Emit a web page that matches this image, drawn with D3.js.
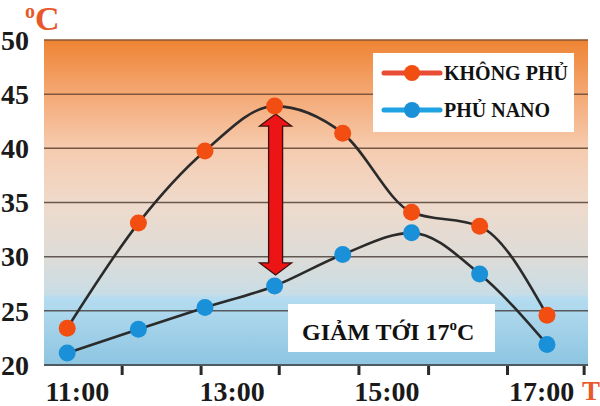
<!DOCTYPE html>
<html><head><meta charset="utf-8">
<script src="https://cdn.jsdelivr.net/npm/d3@7"></script>
<style>html,body{margin:0;padding:0;background:#fff;}svg{display:block;}</style>
</head><body>
<svg id="c" width="600" height="406"></svg>
<script>
// ---- data ----
const times = [10.87, 11.79, 12.65, 13.55, 14.43, 15.32, 16.2, 17.07];
const khongPhu = [23.4, 33.1, 39.75, 43.9, 41.4, 34.1, 32.8, 24.6];
const phuNano = [21.1, 23.3, 25.3, 27.3, 30.2, 32.2, 28.4, 21.9];
const yTicks = [20, 25, 30, 35, 40, 45, 50];
const xLabels = [11, 13, 15, 17];
const xTickTimes = [11.58, 12.6, 13.61, 14.64, 15.54, 16.56, 17.55];
const seriesNames = ["KHÔNG PHỦ", "PHỦ NANO"];

const svg = d3.select("#c");
const L = 44, R = 588, T = 40, B = 365;
const x = d3.scaleLinear().domain([10.57, 17.6]).range([L, R]);
const y = d3.scaleLinear().domain([20, 50]).range([B, T]);
const serif = "'Liberation Serif','Times New Roman',serif";

// gradient background
const defs = svg.append("defs");
const g = defs.append("linearGradient").attr("id", "bg").attr("x1", 0).attr("y1", 0).attr("x2", 0).attr("y2", 1);
[[0, "#ee8433"], [0.16, "#f4a772"], [0.33, "#f6cbae"], [0.5, "#efdacb"], [0.67, "#dddcd8"], [0.78, "#c9dde5"], [0.795, "#b5dcf0"], [1, "#8dc5e1"]]
  .forEach(([o, c]) => g.append("stop").attr("offset", o).attr("stop-color", c));
svg.append("rect").attr("x", L).attr("y", T).attr("width", R - L).attr("height", B - T).attr("fill", "url(#bg)");

// gridlines
const gridCol = d3.scaleLinear().domain([20, 50]).range(["#4d5a62", "#8a5535"]);
svg.append("g").selectAll("line").data(yTicks).join("line")
  .attr("x1", L).attr("x2", R).attr("y1", d => y(d)).attr("y2", d => y(d))
  .attr("stroke", d => gridCol(d)).attr("stroke-width", d => d === 20 ? 2 : 1.5);

// y labels
svg.append("g").selectAll("text").data(yTicks).join("text")
  .attr("x", 29).attr("y", d => y(d)).attr("dy", "0.35em")
  .attr("text-anchor", "end").attr("font-family", serif).attr("font-weight", "bold")
  .attr("font-size", 28).attr("fill", "#1a1a1a").text(d => d);

// x ticks
svg.append("g").selectAll("line").data(xTickTimes).join("line")
  .attr("x1", d => x(d)).attr("x2", d => x(d)).attr("y1", B + 1).attr("y2", B + 10)
  .attr("stroke", "#2a2a2a").attr("stroke-width", 3);

// x labels
svg.append("g").selectAll("text").data(xLabels).join("text")
  .attr("x", d => x(d)).attr("y", 401).attr("text-anchor", "middle")
  .attr("font-family", serif).attr("font-weight", "bold").attr("font-size", 28)
  .attr("fill", "#1a1a1a").text(d => d + ":00");

// unit labels
const cLab = svg.append("text").attr("x", 25).attr("y", 30).attr("font-family", serif)
  .attr("font-weight", "bold").attr("fill", "#e8582a");
cLab.append("tspan").attr("font-size", 20).attr("dy", -12).text("o");
cLab.append("tspan").attr("font-size", 34).attr("dy", 12).text("C");
svg.append("text").attr("x", 582).attr("y", 400).attr("font-family", serif)
  .attr("font-weight", "bold").attr("font-size", 27).attr("fill", "#e8582a").text("T");

// lines
const line = d3.line().x(d => x(d[0])).y(d => y(d[1])).curve(d3.curveMonotoneX);
const redPts = times.map((t, i) => [t, khongPhu[i]]);
const bluePts = times.map((t, i) => [t, phuNano[i]]);
[redPts, bluePts].forEach(p => svg.append("path").attr("d", line(p))
  .attr("fill", "none").attr("stroke", "#2b2b2b").attr("stroke-width", 2.6));

// arrow
const peak = d3.maxIndex(khongPhu);
const ax = x(times[peak]) + 1;
const ay1 = y(khongPhu[peak]) + 8, ay2 = y(phuNano[peak]) - 11;
const hw = 16, sw = 7, hh = 12;
const arrowPath = `M${ax},${ay1} L${ax + hw},${ay1 + hh} L${ax + sw},${ay1 + hh} L${ax + sw},${ay2 - hh} L${ax + hw},${ay2 - hh} L${ax},${ay2} L${ax - hw},${ay2 - hh} L${ax - sw},${ay2 - hh} L${ax - sw},${ay1 + hh} L${ax - hw},${ay1 + hh} Z`;
svg.append("path").attr("d", arrowPath).attr("fill", "#ec1414").attr("stroke", "#3a1010").attr("stroke-width", 1.3);

// markers
svg.append("g").selectAll("circle").data(redPts).join("circle")
  .attr("cx", d => x(d[0])).attr("cy", d => y(d[1])).attr("r", 8.5).attr("fill", "#f24e12");
svg.append("g").selectAll("circle").data(bluePts).join("circle")
  .attr("cx", d => x(d[0])).attr("cy", d => y(d[1])).attr("r", 8.5).attr("fill", "#1a90d8");

// legend
svg.append("rect").attr("x", 373).attr("y", 53).attr("width", 201).attr("height", 79).attr("fill", "#fff");
const legCols = ["#e84c34", "#1ea2e2"], legDot = ["#f24e12", "#1a90d8"];
seriesNames.forEach((n, i) => {
  const ly = 73 + i * 37;
  svg.append("line").attr("x1", 384).attr("x2", 440).attr("y1", ly).attr("y2", ly)
    .attr("stroke", legCols[i]).attr("stroke-width", 5).attr("stroke-linecap", "round");
  svg.append("circle").attr("cx", 412).attr("cy", ly).attr("r", 8).attr("fill", legDot[i]);
  svg.append("text").attr("x", 444).attr("y", ly + 7).attr("font-family", serif)
    .attr("font-weight", "bold").attr("font-size", 20).attr("fill", "#111").text(n);
});

// annotation
svg.append("rect").attr("x", 288).attr("y", 304).attr("width", 207).attr("height", 48).attr("fill", "#fff");
const an = svg.append("text").attr("x", 302).attr("y", 340).attr("font-family", serif)
  .attr("font-weight", "bold").attr("font-size", 24).attr("fill", "#111");
an.append("tspan").text("GIẢM TỚI 17");
an.append("tspan").attr("font-size", 15).attr("dy", -10).text("o");
an.append("tspan").attr("dy", 10).text("C");
</script>
</body></html>
